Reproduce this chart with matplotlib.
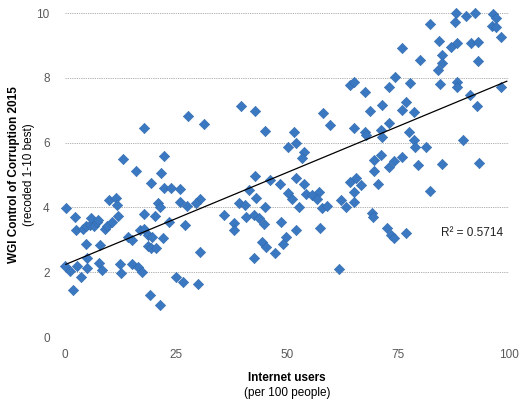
import numpy as np
import matplotlib
matplotlib.use("Agg")
import matplotlib.pyplot as plt

plt.rcParams['font.family'] = ['Liberation Sans', 'DejaVu Sans']

# Internet users (per 100 people)
internet = [
    0.2, 2.2, 2.5, 4.0, 4.7, 5.6, 5.8, 6.5, 7.2, 7.4, 9.0, 9.4, 10.5, 9.9, 11.4, 11.7, 11.9,
    4.7, 7.8, 0.0, 1.1, 2.7, 3.6, 4.9, 4.9, 7.6, 8.3, 1.8, 12.3, 12.6, 15.0, 16.4, 17.3,
    19.1, 21.3, 24.9, 26.5, 30.0, 13.0, 16.1, 17.9, 22.4, 21.7, 19.3, 22.4, 23.8, 25.8,
    26.0, 27.4, 30.3, 29.6, 20.9, 21.5, 17.7, 20.2, 23.5, 27.1, 16.8, 17.7, 14.3, 15.2,
    18.6, 19.7, 22.0, 18.6, 19.3, 20.6, 30.3,
    27.6, 31.4, 39.7, 42.8, 45.1, 51.6, 52.0, 50.2, 53.8, 53.4, 42.8, 41.5, 43.0, 39.2,
    40.6, 45.1, 35.9, 38.1, 38.1, 40.8, 42.6, 43.7, 44.8, 46.2, 48.4, 50.2, 51.1, 52.0,
    53.8, 54.3, 52.7, 55.6, 57.2, 56.7, 57.8, 59.0, 48.7, 52.0, 44.4, 45.3, 47.3, 49.8,
    49.1, 42.6, 57.4, 61.7,
    58.1, 59.6, 64.3, 65.0, 67.5, 72.9, 74.4, 77.8, 68.6, 71.5, 75.8, 76.9, 78.7, 65.2,
    67.5, 67.9, 71.1, 71.3, 72.9, 77.4, 78.5, 78.9, 81.2, 69.5, 71.1, 69.7, 72.9, 74.0,
    75.8, 79.4, 84.8, 93.3, 64.3, 65.5, 66.6, 65.0, 70.4, 65.0, 62.1, 63.2, 69.1, 69.3,
    72.6, 73.5, 74.0, 76.9, 82.1, 89.7,
    88.1, 90.4, 92.4, 96.4, 97.1, 87.9, 82.1, 96.2, 97.1, 98.2, 84.3, 87.0, 88.3, 91.5,
    93.0, 76.0, 80.0, 84.8, 85.0, 83.9, 93.0, 84.5, 88.3, 88.3, 98.2, 91.3, 92.8,
]

# WGI Control of Corruption 2015 (recoded 1-10 best)
wgi = [
    3.98, 3.70, 3.30, 3.33, 3.43, 3.46, 3.67, 3.43, 3.55, 3.61, 3.33, 3.43, 3.55, 4.23, 4.29, 4.07, 3.73,
    2.87, 2.84, 2.19, 2.04, 2.19, 1.85, 2.13, 2.44, 2.28, 2.07, 1.45, 2.25, 1.98, 2.25, 2.16, 2.01,
    1.30, 0.99, 1.85, 1.70, 1.64, 5.49, 5.12, 6.45, 5.59, 5.06, 4.75, 4.60, 4.60, 4.57,
    4.17, 4.04, 4.26, 4.14, 4.14, 4.01, 3.80, 3.73, 3.55, 3.46, 3.30, 3.33, 3.09, 2.99,
    3.15, 3.09, 3.06, 2.81, 2.75, 2.75, 2.62,
    6.82, 6.57, 7.13, 6.98, 6.36, 6.33, 5.99, 5.86, 5.71, 5.52, 4.97, 4.54, 4.29, 4.14,
    4.07, 4.01, 3.77, 3.52, 3.30, 3.70, 3.77, 3.67, 3.49, 4.85, 4.72, 4.44, 4.26, 4.91,
    4.72, 4.41, 4.01, 4.38, 4.48, 4.26, 3.98, 4.04, 3.55, 3.30, 2.93, 2.78, 2.59, 3.09,
    2.87, 2.44, 3.36, 2.10,
    6.91, 6.54, 7.78, 7.87, 7.56, 7.72, 8.02, 7.84, 6.98, 7.16, 7.01, 7.25, 6.94, 6.45,
    6.33, 6.23, 6.39, 6.17, 6.60, 6.33, 6.08, 5.86, 5.86, 5.46, 5.62, 5.12, 5.25, 5.43,
    5.56, 5.31, 5.34, 5.37, 4.78, 4.91, 4.69, 4.48, 4.72, 4.17, 4.23, 4.01, 3.83, 3.70,
    3.36, 3.15, 3.06, 3.21, 4.51, 6.08,
    10.0, 9.91, 10.0, 9.97, 9.85, 9.72, 9.66, 9.60, 9.57, 9.26, 9.14, 8.95, 9.07, 9.07,
    9.10, 8.92, 8.55, 8.70, 8.46, 8.24, 8.52, 7.81, 7.87, 7.72, 7.72, 7.47, 7.13,
]

x_ticks = [0, 25, 50, 75, 100]
y_ticks = [0, 2, 4, 6, 8, 10]

x = np.array(internet)
y = np.array(wgi)
slope, intercept = np.polyfit(x, y, 1)

fig = plt.figure(figsize=(5.22, 4.00), dpi=100, facecolor="white")
ax = fig.add_axes([65/522, 1-337/400, 444/522, 324/400])
ax.set_xlim(0, 100)
ax.set_ylim(0, 10)

# dashed horizontal gridlines, including the one at 0
for gy in y_ticks:
    ax.axhline(gy, color="#a6a6a6", lw=0.6, ls=(0, (1.5, 1.2)), zorder=0)

ax.scatter(x, y, marker="D", s=28, color="#3b78c2", edgecolors="#3069ad",
           linewidths=0.4, zorder=3, clip_on=False)

xx = np.array([0.2, 99.5])
ax.plot(xx, intercept + slope*xx, color="black", lw=0.9, zorder=4)

ax.text(98.7, 3.2, "R² = 0.5714", ha="right", va="center", fontsize=8.5, color="#222222")

for s in ax.spines.values():
    s.set_visible(False)
ax.set_xticks(x_ticks)
ax.set_yticks(y_ticks)
ax.tick_params(length=0, labelsize=8.5, labelcolor="#595959", pad=9)
ax.tick_params(axis="y", pad=11)

fig.text(287/522, 1-378/400, "Internet users", ha="center", va="center",
         fontsize=8.5, fontweight="bold")
fig.text(287/522, 1-393/400, "(per 100 people)", ha="center", va="center", fontsize=8.5)
fig.text(14/522, 1-175/400, "WGI Control of Corruption 2015", ha="center", va="center",
         rotation=90, fontsize=8.5, fontweight="bold")
fig.text(29/522, 1-175/400, "(recoded 1-10 best)", ha="center", va="center",
         rotation=90, fontsize=8.5)

fig.savefig("out.png", dpi=100)
